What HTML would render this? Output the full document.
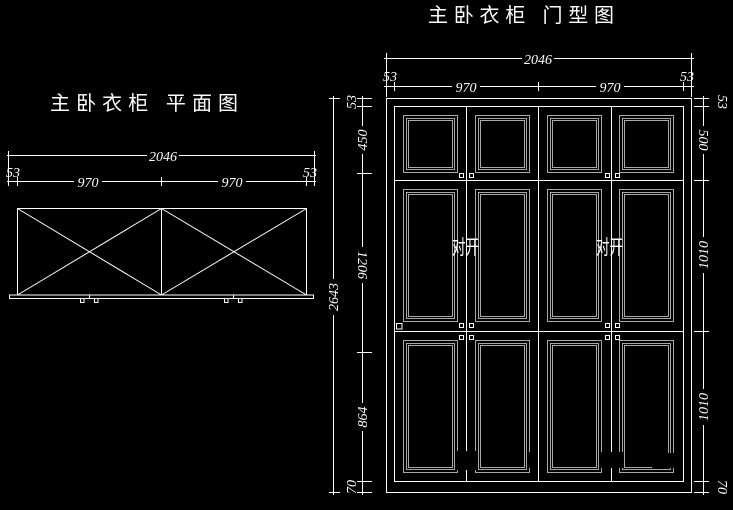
<!DOCTYPE html>
<html><head><meta charset="utf-8"><style>
html,body{margin:0;padding:0;background:#000;}
svg{display:block}
text{font-family:"Liberation Serif","Noto Serif CJK SC",serif;font-style:italic;fill:#fff;font-size:14px}
.t{font-family:"Liberation Sans","Noto Sans CJK SC",sans-serif;font-style:normal;font-size:20px}
</style></head><body>
<svg width="733" height="510" viewBox="0 0 733 510" xmlns="http://www.w3.org/2000/svg">
<rect width="733" height="510" fill="#000"/>
<text class="t" x="428" y="22" textLength="186">主卧衣柜 门型图</text>
<text class="t" x="50" y="110" textLength="188">主卧衣柜 平面图</text>

<g stroke="#fff" stroke-width="1" fill="none">
<rect x="17.5" y="208.5" width="289" height="86.5"/>
<line x1="161.5" y1="208.5" x2="161.5" y2="295"/>
<line x1="17.5" y1="208.5" x2="161.5" y2="295"/><line x1="161.5" y1="208.5" x2="17.5" y2="295"/>
<line x1="161.5" y1="208.5" x2="306.5" y2="295"/><line x1="306.5" y1="208.5" x2="161.5" y2="295"/>
<rect x="9.5" y="295" width="304" height="3.5"/>
<line x1="89.5" y1="295" x2="89.5" y2="298"/><line x1="233.5" y1="295" x2="233.5" y2="298"/>
<rect x="80.5" y="298.5" width="3.5" height="4"/><rect x="94.5" y="298.5" width="3.5" height="4"/>
<rect x="224.5" y="298.5" width="3.5" height="4"/><rect x="238.5" y="298.5" width="3.5" height="4"/>
<line x1="7" y1="155.5" x2="316" y2="155.5"/>
<line x1="7" y1="181.5" x2="316" y2="181.5"/>
<line x1="8.5" y1="151" x2="8.5" y2="186"/><line x1="314.5" y1="151" x2="314.5" y2="186"/>
<line x1="17.5" y1="177" x2="17.5" y2="186"/><line x1="161.5" y1="177" x2="161.5" y2="186"/><line x1="306.5" y1="177" x2="306.5" y2="186"/>

<rect x="386.5" y="98.5" width="305" height="394"/>
<rect x="394.5" y="106.5" width="289" height="375"/>
<line x1="394.5" y1="180.5" x2="683.5" y2="180.5"/>
<line x1="394.5" y1="331.5" x2="683.5" y2="331.5"/>
<line x1="466.5" y1="106.5" x2="466.5" y2="481.5"/>
<line x1="538.5" y1="106.5" x2="538.5" y2="481.5"/>
<line x1="611.5" y1="106.5" x2="611.5" y2="481.5"/>
<rect x="459.5" y="173.5" width="4" height="4"/><rect x="469.5" y="173.5" width="4" height="4"/>
<rect x="605.5" y="173.5" width="4" height="4"/><rect x="615.5" y="173.5" width="4" height="4"/>
<rect x="459.5" y="323.5" width="4" height="4"/><rect x="469.5" y="323.5" width="4" height="4"/>
<rect x="605.5" y="323.5" width="4" height="4"/><rect x="615.5" y="323.5" width="4" height="4"/>
<rect x="459.5" y="335.5" width="4" height="4"/><rect x="469.5" y="335.5" width="4" height="4"/>
<rect x="605.5" y="335.5" width="4" height="4"/><rect x="615.5" y="335.5" width="4" height="4"/>
<rect x="396.5" y="323.5" width="5.5" height="5.5"/>

<line x1="384" y1="58.5" x2="694" y2="58.5"/>
<line x1="384" y1="86.5" x2="694" y2="86.5"/>
<line x1="386.5" y1="53" x2="386.5" y2="97"/><line x1="691.5" y1="53" x2="691.5" y2="97"/>
<line x1="394.5" y1="82" x2="394.5" y2="91"/><line x1="538.5" y1="82" x2="538.5" y2="91"/><line x1="683.5" y1="82" x2="683.5" y2="91"/>
<line x1="333.5" y1="96" x2="333.5" y2="495"/>
<line x1="329" y1="98.5" x2="340" y2="98.5"/><line x1="329" y1="492.5" x2="340" y2="492.5"/>
<line x1="362.5" y1="96" x2="362.5" y2="495"/>
<line x1="357" y1="98.5" x2="372" y2="98.5"/><line x1="357" y1="106.5" x2="372" y2="106.5"/>
<line x1="357" y1="173.5" x2="372" y2="173.5"/><line x1="357" y1="352.5" x2="372" y2="352.5"/>
<line x1="357" y1="481.5" x2="372" y2="481.5"/><line x1="357" y1="492.5" x2="372" y2="492.5"/>
<line x1="703.5" y1="96" x2="703.5" y2="495"/>
<line x1="694" y1="98.5" x2="709" y2="98.5"/><line x1="694" y1="106.5" x2="709" y2="106.5"/>
<line x1="694" y1="180.5" x2="709" y2="180.5"/><line x1="694" y1="331.5" x2="709" y2="331.5"/>
<line x1="694" y1="481.5" x2="709" y2="481.5"/><line x1="694" y1="492.5" x2="709" y2="492.5"/>
</g>

<g fill="none" stroke="#a8a8a8" stroke-width="1">
<g id="p">
<rect x="403.5" y="115.5" width="54" height="57"/><rect x="406.5" y="118.5" width="48" height="51"/><rect x="408.5" y="120.5" width="44" height="47"/>
<rect x="403.5" y="189.5" width="54" height="132"/><rect x="406.5" y="192.5" width="48" height="126"/><rect x="408.5" y="194.5" width="44" height="122"/>
<rect x="403.5" y="340.5" width="54" height="132"/><rect x="406.5" y="343.5" width="48" height="126"/><rect x="408.5" y="345.5" width="44" height="122"/>
</g>
<use href="#p" x="72"/>
<use href="#p" x="144"/>
<use href="#p" x="216"/>
</g>

<g fill="#000">
<rect x="456" y="451" width="20" height="19"/><rect x="527" y="452" width="10" height="16"/>
<rect x="600" y="452" width="24" height="16"/><rect x="652" y="453" width="26" height="15"/>
</g>

<g>
<rect x="147" y="149" width="32" height="13" fill="#000"/>
<text x="163" y="161" text-anchor="middle">2046</text>
<rect x="74" y="175" width="28" height="13" fill="#000"/>
<text x="88" y="187" text-anchor="middle">970</text>
<rect x="218" y="175" width="28" height="13" fill="#000"/>
<text x="232" y="187" text-anchor="middle">970</text>
<text x="13" y="177" text-anchor="middle">53</text>
<text x="310" y="177" text-anchor="middle">53</text>

<rect x="522" y="52" width="32" height="13" fill="#000"/>
<text x="538" y="64" text-anchor="middle">2046</text>
<rect x="452" y="80" width="28" height="13" fill="#000"/>
<text x="466" y="92" text-anchor="middle">970</text>
<rect x="596" y="80" width="28" height="13" fill="#000"/>
<text x="610" y="92" text-anchor="middle">970</text>
<text x="390" y="81" text-anchor="middle">53</text>
<text x="687" y="81" text-anchor="middle">53</text>

<g fill="#000">
<rect x="355" y="126" width="14" height="28"/><rect x="355" y="247" width="14" height="36"/>
<rect x="355" y="403" width="14" height="28"/><rect x="326" y="279" width="14" height="36"/>
<rect x="696" y="126" width="14" height="28"/><rect x="696" y="237" width="14" height="36"/>
<rect x="696" y="389" width="14" height="36"/>
</g>
<text transform="translate(367,140) rotate(-90)" text-anchor="middle">450</text>
<text transform="translate(358,265) rotate(90)" text-anchor="middle">1206</text>
<text transform="translate(367,417) rotate(-90)" text-anchor="middle">864</text>
<text transform="translate(338,297) rotate(-90)" text-anchor="middle">2643</text>
<text transform="translate(356,102) rotate(-90)" text-anchor="middle">53</text>
<text transform="translate(356,487) rotate(-90)" text-anchor="middle">70</text>
<text transform="translate(699,140) rotate(90)" text-anchor="middle">500</text>
<text transform="translate(708,255) rotate(-90)" text-anchor="middle">1010</text>
<text transform="translate(708,407) rotate(-90)" text-anchor="middle">1010</text>
<text transform="translate(718,102) rotate(90)" text-anchor="middle">53</text>
<text transform="translate(718,487) rotate(90)" text-anchor="middle">70</text>

<text class="t" x="452" y="254" textLength="27" lengthAdjust="spacingAndGlyphs">对开</text>
<text class="t" x="596" y="254" textLength="27" lengthAdjust="spacingAndGlyphs">对开</text>
</g>
</svg>
</body></html>
